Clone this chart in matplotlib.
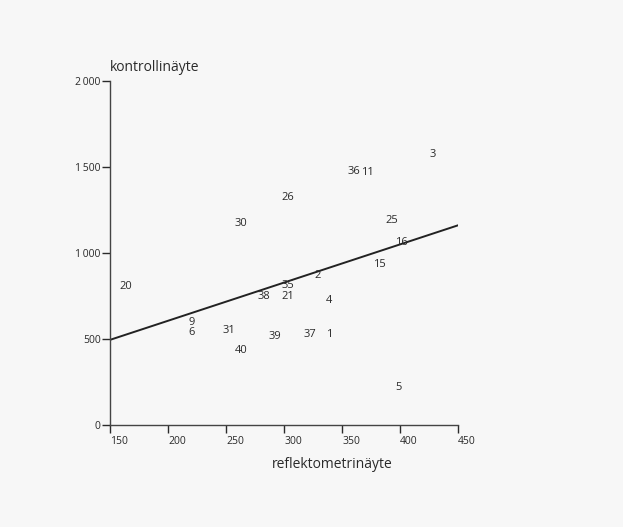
import matplotlib
matplotlib.use("Agg")
from matplotlib import pyplot as plt

ids = ['20', '9', '6', '31', '40', '30', '38', '35', '21', '26', '39', '37',
       '1', '4', '2', '15', '16', '25', '36', '11', '3', '5']
refl = [163, 220, 220, 252, 263, 263, 283, 303, 303, 303, 292, 322,
        339, 339, 329, 382, 401, 393, 360, 372, 428, 399]
ctrl = [809, 600, 540, 549, 434, 1173, 751, 812, 748, 1324, 514, 526,
        526, 723, 873, 936, 1064, 1191, 1474, 1468, 1572, 220]

# regression line end points
fit_x = [150, 450]
fit_y = [497, 1162]

xticks = [150, 200, 250, 300, 350, 400, 450]
yticks = [0, 500, 1000, 1500, 2000]
ytick_labels = ['0', '500', '1\u2009000', '1\u2009500', '2\u2009000']

plt.rcParams['font.family'] = ['Open Sans', 'DejaVu Sans']
ink = '#2a2a2a'

fig = plt.figure(figsize=(6.23, 5.27), dpi=100, facecolor='#f7f7f7')
ax = fig.add_axes([0.177, 0.193, 0.558, 0.653])
ax.set_facecolor('#f7f7f7')

ax.plot(fit_x, fit_y, color='#222222', linewidth=1.4)

for name, x, y in zip(ids, refl, ctrl):
    ax.text(x, y, name, ha='center', va='center', fontsize=8, color=ink)

ax.set_xlim(150, 450)
ax.set_ylim(0, 2000)
ax.set_xticks(xticks)
ax.set_xticklabels([str(v) for v in xticks], ha='left')
ax.set_yticks(yticks)
ax.set_yticklabels(ytick_labels)
ax.tick_params(axis='both', labelsize=7.5, colors=ink, length=6, width=1.0, pad=1)
ax.tick_params(axis='x', pad=2)

for side in ['top', 'right']:
    ax.spines[side].set_visible(False)
for side in ['left', 'bottom']:
    ax.spines[side].set_color('#444444')
    ax.spines[side].set_linewidth(1.0)

ax.text(0.0, 1.04, 'kontrollinäyte', transform=ax.transAxes, ha='left',
        va='center', fontsize=10, color=ink)
ax.text(0.638, -0.113, 'reflektometrinäyte', transform=ax.transAxes, ha='center',
        va='center', fontsize=10, color=ink)

fig.savefig('out.png', dpi=100, facecolor=fig.get_facecolor())
